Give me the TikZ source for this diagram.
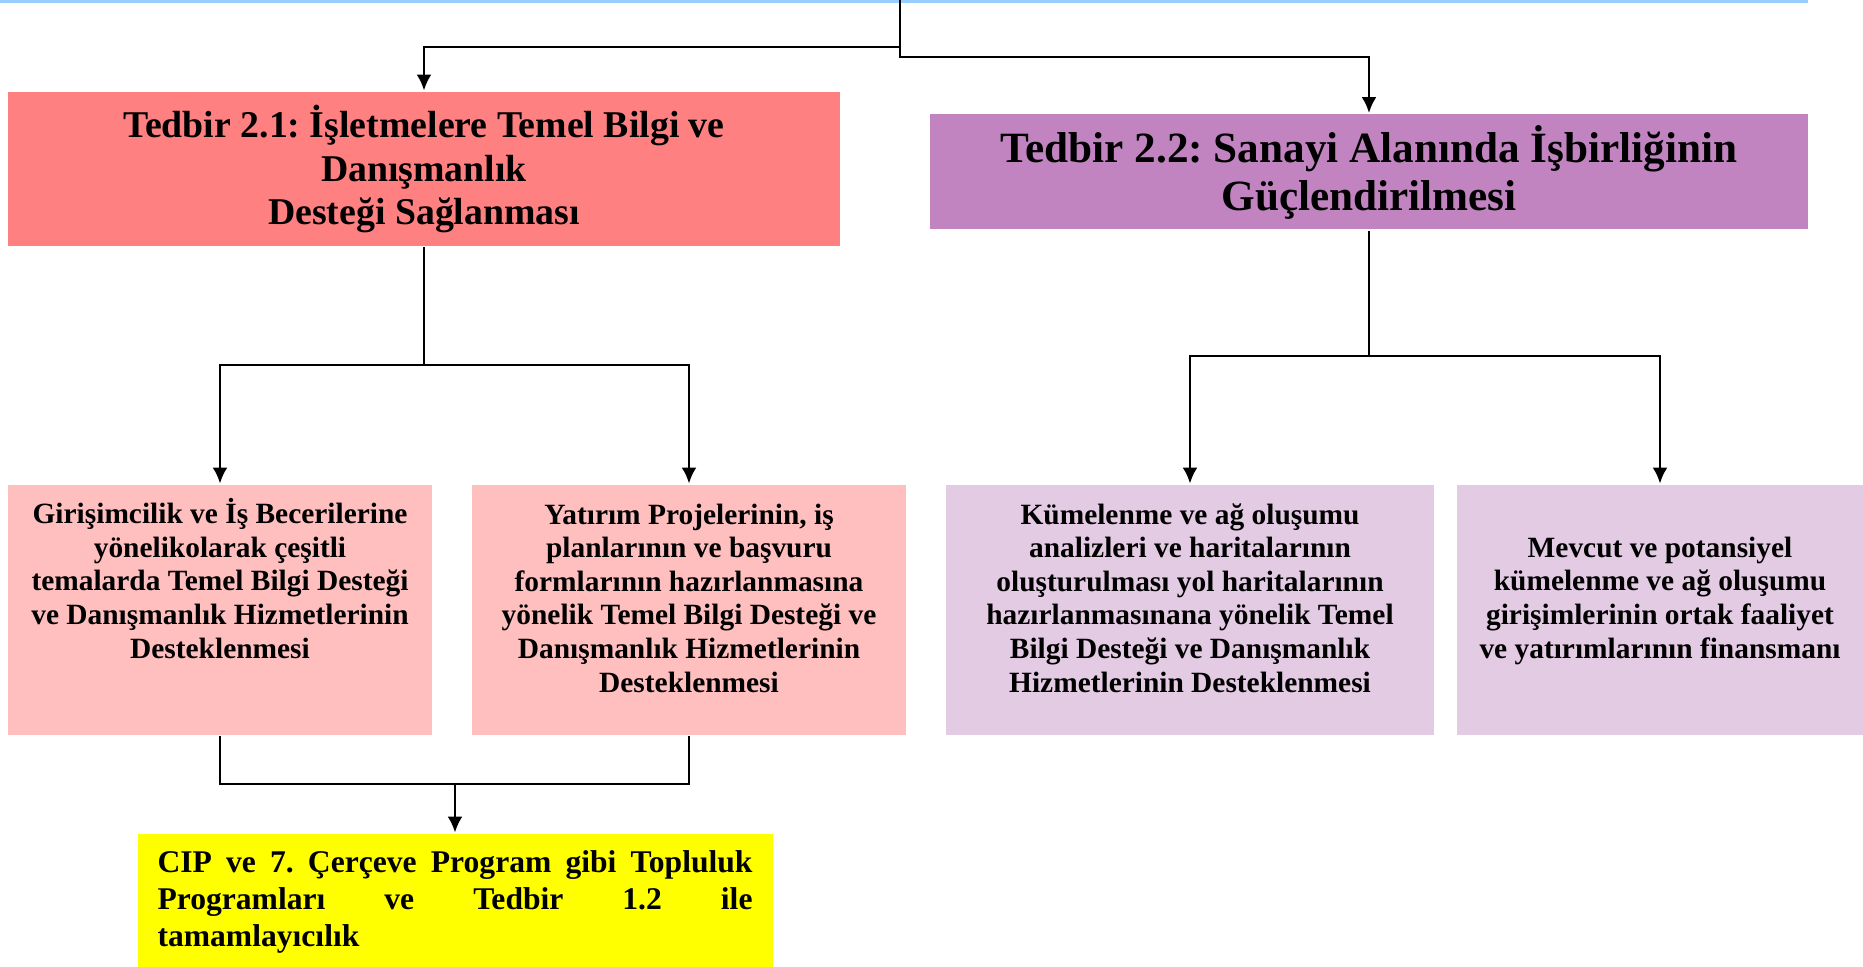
\documentclass[tikz,border=0pt]{standalone}
\usepackage{fontspec}
\setmainfont{Liberation Serif}
\usetikzlibrary{arrows.meta}
\definecolor{cbl}{RGB}{153,204,255}
\definecolor{crd}{RGB}{255,128,128}
\definecolor{cpr}{RGB}{193,132,193}
\definecolor{cpk}{RGB}{255,191,191}
\definecolor{clv}{RGB}{228,203,228}
\definecolor{cye}{RGB}{255,255,0}
\frenchspacing
\tikzset{>={Latex[length=8pt,width=7.5pt]}}
\tikzset{
  tbox/.style={fill=#1, inner sep=0pt, align=center},
  sbox/.style={fill=#1, inner sep=0pt},
  stxt/.style={align=center, anchor=base, inner sep=0pt,
    font=\fontsize{14.7pt}{16.8pt}\selectfont\bfseries},
}
\newcommand*{\jline}[1]{\makebox[297.5pt][l]{#1}}

\begin{document}
\begin{tikzpicture}[x=0.5pt, y=-0.5pt, line width=1.4pt]
    \useasboundingbox (0,0) rectangle (1863,967);
    \draw[cbl, line width=1.6pt](0, 1.5)--(1808, 1.5);
    % tedbir boxes
    \node[tbox=crd, minimum width=416pt, minimum height=77pt,
      font=\fontsize{18.9pt}{21.8pt}\selectfont\bfseries] (t21) at (424, 169)
      {Tedbir 2.1: İşletmelere Temel Bilgi ve\\ Danışmanlık\\ Desteği Sağlanması};
    \node[tbox=cpr, minimum width=439pt, minimum height=57.5pt,
      font=\fontsize{21.6pt}{24pt}\selectfont\bfseries] (t22) at (1369, 172)
      {Tedbir 2.2: Sanayi Alanında İşbirliğinin\\ Güçlendirilmesi};
    % measure boxes
    \node[sbox=cpk, minimum width=212pt, minimum height=125pt] (m1) at (220, 610) {};
    \node[sbox=cpk, minimum width=217pt, minimum height=125pt] (m2) at (689, 610) {};
    \node[sbox=clv, minimum width=244pt, minimum height=125pt] (m3) at (1190, 610) {};
    \node[sbox=clv, minimum width=203pt, minimum height=125pt] (m4) at (1660, 610) {};
    % text sits on the baseline of its last line
    \node[stxt] (m1t) at (220, 658) {Girişimcilik ve İş Becerilerine\\ yönelikolarak  çeşitli\\
      temalarda Temel Bilgi Desteği\\ ve Danışmanlık Hizmetlerinin\\ Desteklenmesi};
    \node[stxt] (m2t) at (689, 692) {Yatırım Projelerinin, iş\\ planlarının ve başvuru\\
      formlarının  hazırlanmasına\\ yönelik Temel Bilgi Desteği ve\\ Danışmanlık Hizmetlerinin\\ Desteklenmesi};
    \node[stxt] (m3t) at (1190, 692) {Kümelenme ve ağ oluşumu\\ analizleri ve haritalarının\\
      oluşturulması yol haritalarının\\ hazırlanmasınana yönelik Temel\\ Bilgi Desteği ve Danışmanlık\\ Hizmetlerinin Desteklenmesi};
    \node[stxt] (m4t) at (1660, 658) {Mevcut ve potansiyel\\ kümelenme ve ağ oluşumu\\
      girişimlerinin ortak faaliyet\\ ve yatırımlarının finansmanı};
    \node[fill=cye, inner xsep=10pt, inner ysep=0pt, text width=297.5pt, minimum height=68pt,
      align=left, font=\fontsize{15.8pt}{18.5pt}\selectfont\bfseries] (cip) at (455, 902)
      {\jline{CIP\hfill ve\hfill 7.\hfill Çerçeve\hfill Program\hfill gibi\hfill Topluluk}\\
       \jline{Programları\hfill ve\hfill Tedbir\hfill 1.2\hfill ile}\\ tamamlayıcılık};
    % connectors
    \coordinate (top) at (900, 0);
    \coordinate (jl) at (900, 47);
    \coordinate (jr) at (900, 57);
    \draw[->](top)--(jl)-|(t21);
    \draw[->](jl)--(jr)-|(t22);
    \coordinate (sl) at (424, 365);
    \draw(t21)--(sl);
    \draw[->](sl)-|(m1);
    \draw[->](sl)-|(m2);
    \coordinate (sr) at (1369, 356);
    \draw(t22)--(sr);
    \draw[->](sr)-|(m3);
    \draw[->](sr)-|(m4);
    \coordinate (jb) at (455, 784);
    \draw(m1)|-(jb);
    \draw(m2)|-(jb);
    \draw[->](jb)--(cip);
\end{tikzpicture}
\end{document}
